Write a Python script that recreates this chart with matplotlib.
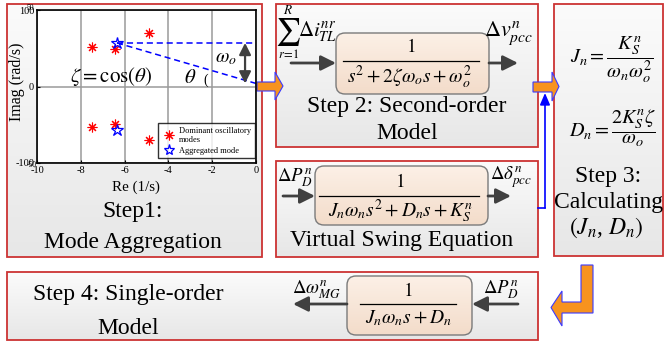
import numpy as np
import matplotlib
matplotlib.use('Agg')
import matplotlib.pyplot as plt
from matplotlib.patches import Rectangle, FancyBboxPatch, Polygon
from matplotlib.colors import LinearSegmentedColormap
from matplotlib.lines import Line2D

plt.rcParams['font.family'] = 'serif'
plt.rcParams['font.serif'] = ['Liberation Serif', 'STIXGeneral', 'DejaVu Serif']
plt.rcParams['mathtext.fontset'] = 'stix'
plt.rcParams['axes.unicode_minus'] = False

# poles
dominant_re = [-7.5, -6.45, -4.9, -7.5, -6.45, -4.9]
dominant_im = [52, 49, 70, -53, -49, -70]
aggregated_re = [-6.35, -6.35]
aggregated_im = [57, -57]
angle_end = [0, 4]          # end of the damping-angle line
x_ticks = [-10, -8, -6, -4, -2, 0]
y_ticks = [-100, 0, 100]
legend_labels = ['Dominant oscillatory\nmodes', 'Aggregated mode']

W, H = 665, 345
fig = plt.figure(figsize=(W / 100, H / 100), dpi=100)
cv = fig.add_axes([0, 0, 1, 1])
cv.axis('off')

RED = '#cc3333'
DARK = '#404040'
ORANGE = '#f7931e'
CAP = 17


def panel(x0, y0, x1, y1, top='#fbfbfb', bottom='#e7e7e7', edge=RED, lw=1.3, rounded=False, z=1):
    if rounded:
        p = FancyBboxPatch((x0, y0), x1 - x0, y1 - y0, boxstyle='round,pad=0,rounding_size=9',
                           fc='none', ec=edge, lw=lw, zorder=z + 0.1)
    else:
        p = Rectangle((x0, y0), x1 - x0, y1 - y0, fc='none', ec=edge, lw=lw, zorder=z + 0.1)
    cmap = LinearSegmentedColormap.from_list('g', [top, bottom])
    im = cv.imshow(np.linspace(0, 1, 64).reshape(-1, 1), cmap=cmap, extent=(x0, x1, y1, y0),
                   aspect='auto', zorder=z, interpolation='bilinear')
    cv.add_patch(p)
    im.set_clip_path(p)


def tf_box(x0, y0, x1, y1):
    panel(x0, y0, x1, y1, top='#fcf0e6', bottom='#f3dcca', edge='#7a7a7a', lw=1.0, rounded=True, z=3)


def arrow(x0, y0, x1, y1, color=DARK, lw=2.0, style='-|>,head_length=0.9,head_width=0.45'):
    cv.annotate('', xy=(x1, y1), xytext=(x0, y0),
                arrowprops=dict(arrowstyle=style, color=color, lw=lw, shrinkA=0, shrinkB=0),
                zorder=5)


def frac_line(x0, x1, y):
    cv.plot([x0, x1], [y, y], color='black', lw=0.9, zorder=5)


def block_arrow(pts):
    cv.add_patch(Polygon(pts, closed=True, fc=ORANGE, ec='#3a3aff', lw=0.8, zorder=6))


# frames
panel(7, 4, 262, 257)
panel(276, 4, 538, 147)
panel(276, 161, 538, 257)
panel(554, 4, 663, 256)
panel(7, 272, 538, 340)

# step 1 captions
cv.text(133, 217, 'Step1:', fontsize=CAP, ha='center', va='baseline', zorder=7)
cv.text(133, 248, 'Mode Aggregation', fontsize=CAP, ha='center', va='baseline', zorder=7)
cv.text(136, 187, 'Re (1/s)', fontsize=10.8, ha='center', va='center', zorder=7)
cv.text(17, 82, 'Imag (rad/s)', fontsize=11.5, ha='center', va='center', rotation=90, zorder=7)
cv.text(27, 8, '50', fontsize=5.5, ha='left', va='center', zorder=7)
cv.text(27, 165, '-50', fontsize=5.5, ha='left', va='center', zorder=7)

# step 2: second-order model
tf_box(336, 33, 489, 94)
cv.text(411, 47, r'$1$', fontsize=14, ha='center', va='center', zorder=6)
frac_line(343, 479, 61)
cv.text(410, 77, r'$s^2+2\zeta\omega_o s+\omega_o^2$', fontsize=14, ha='center', va='center', zorder=6)
arrow(291, 63, 336, 63)
arrow(489, 63, 518, 63)
cv.text(288, 32, r'$\sum$', fontsize=20, ha='center', va='center', zorder=6)
cv.text(288, 11, r'$R$', fontsize=9.5, ha='center', va='center', zorder=6)
cv.text(288, 54, r'$r\!=\!1$', fontsize=9, ha='center', va='center', zorder=6)
cv.text(318, 32, r'$\Delta i_{TL}^{nr}$', fontsize=15, ha='center', va='center', zorder=6)
cv.text(509, 33, r'$\Delta v_{pcc}^{n}$', fontsize=16, ha='center', va='center', zorder=6)
cv.text(407, 112, 'Step 2: Second-order', fontsize=CAP, ha='center', va='baseline', zorder=6)
cv.text(407, 139, 'Model', fontsize=CAP, ha='center', va='baseline', zorder=6)

# virtual swing equation
tf_box(315, 166, 488, 225)
cv.text(400, 182, r'$1$', fontsize=14, ha='center', va='center', zorder=6)
frac_line(319, 479, 196)
cv.text(401, 211, r'$J_n\omega_n s^2+D_n s+K_S^n$', fontsize=14, ha='center', va='center', zorder=6)
arrow(283, 196, 315, 196)
arrow(488, 196, 511, 196)
cv.text(295, 178, r'$\Delta P_D^n$', fontsize=13.5, ha='center', va='center', zorder=6)
cv.text(511, 178, r'$\Delta\delta_{pcc}^n$', fontsize=13.5, ha='center', va='center', zorder=6)
cv.text(402, 246, 'Virtual Swing Equation', fontsize=CAP, ha='center', va='baseline', zorder=6)

# step 3
cv.text(612, 60, r'$J_n=\dfrac{K_S^n}{\omega_n\omega_o^2}$', fontsize=14.5, ha='center', va='center', zorder=6)
cv.text(613, 128, r'$D_n=\dfrac{2K_S^n\zeta}{\omega_o}$', fontsize=14.5, ha='center', va='center', zorder=6)
cv.text(608, 182, 'Step 3:', fontsize=CAP, ha='center', va='baseline', zorder=6)
cv.text(609, 208, 'Calculating', fontsize=CAP, ha='center', va='baseline', zorder=6)
cv.text(606, 228, r'$(J_n$, $D_n)$', fontsize=CAP, ha='center', va='center', zorder=6)

# step 4
tf_box(347, 276, 472, 335)
cv.text(408, 291, r'$1$', fontsize=14, ha='center', va='center', zorder=6)
frac_line(360, 456, 304)
cv.text(408, 318, r'$J_n\omega_n s+D_n$', fontsize=14, ha='center', va='center', zorder=6)
arrow(518, 304, 472, 304)
arrow(347, 304, 293, 304)
cv.text(501, 290, r'$\Delta P_D^n$', fontsize=13.5, ha='center', va='center', zorder=6)
cv.text(316, 290, r'$\Delta\omega_{MG}^n$', fontsize=13.5, ha='center', va='center', zorder=6)
cv.text(128, 300, 'Step 4: Single-order', fontsize=CAP, ha='center', va='baseline', zorder=6)
cv.text(128, 334, 'Model', fontsize=CAP, ha='center', va='baseline', zorder=6)

# feedback line and orange flow arrows
cv.plot([538, 545], [208, 208], color='blue', lw=1.2, zorder=5)
arrow(545, 208, 545, 93, color='blue', lw=1.2, style='-|>,head_length=0.7,head_width=0.3')
block_arrow([(257, 82), (275, 82), (275, 72), (283, 86), (275, 100), (275, 91), (257, 91)])
block_arrow([(533, 82), (552, 82), (552, 72), (559, 86.5), (552, 101), (552, 92), (533, 92)])
block_arrow([(581, 265), (593, 265), (593, 313), (562, 313), (562, 326), (551, 307.5),
             (562, 291), (562, 302), (581, 302)])

cv.set_xlim(0, W)
cv.set_ylim(H, 0)

# pole plot
ax = fig.add_axes([37 / W, 1 - 163 / H, 219 / W, 153 / H])
ax.set_xlim(-10, 0)
ax.set_ylim(-100, 100)
ax.set_xticks(x_ticks)
ax.set_yticks(y_ticks)
ax.grid(True, color='#9a9a9a', lw=1.1)
ax.set_axisbelow(True)
ax.tick_params(labelsize=7.5, length=2, direction='in', pad=2)
for s in ax.spines.values():
    s.set_linewidth(1.2)

ax.plot([aggregated_re[0], 0], [aggregated_im[0], aggregated_im[0]], color='blue', ls=(0, (4, 2.5)), lw=1.1)
ax.plot([aggregated_re[0], angle_end[0]], [aggregated_im[0], angle_end[1]], color='blue', ls=(0, (4, 2.5)), lw=1.1)
ax.annotate('', xy=(-0.5, angle_end[1]), xytext=(-0.5, aggregated_im[0]),
            arrowprops=dict(arrowstyle='<|-|>,head_length=0.7,head_width=0.35', color=DARK, lw=1.6,
                            shrinkA=0, shrinkB=0))
ax.plot(dominant_re, dominant_im, ls='none', marker=(8, 2, 0), ms=7, mec='red', mew=0.8)
ax.plot(aggregated_re, aggregated_im, ls='none', marker='*', ms=9, mfc='none', mec='blue', mew=0.9)

ax.text(-6.6, 13, r'$\zeta = \cos(\theta)$', fontsize=15, ha='center', va='center')
ax.text(-3.0, 11, r'$\theta$', fontsize=15, ha='center', va='center')
ax.text(-2.28, 8, '(', fontsize=10, ha='center', va='center')
ax.text(-1.38, 37, r'$\omega_o$', fontsize=14, ha='center', va='center')

handles = [Line2D([], [], ls='none', marker=(8, 2, 0), ms=7, mec='red', mew=0.8),
           Line2D([], [], ls='none', marker='*', ms=8, mfc='none', mec='blue', mew=0.9)]
leg = ax.legend(handles, legend_labels, loc='upper left', bbox_to_anchor=(0.553, 0.263),
                fontsize=6, frameon=True, fancybox=False, edgecolor='black', borderaxespad=0,
                handlelength=1.6, handletextpad=0.5, borderpad=0.45, labelspacing=0.35)
leg.get_frame().set_linewidth(1.0)

fig.savefig('out.png', dpi=100)
